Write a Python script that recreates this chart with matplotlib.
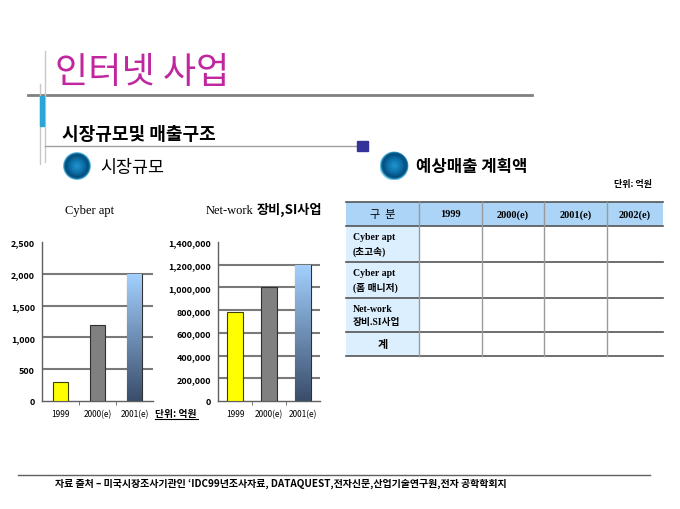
import numpy as np
import matplotlib
matplotlib.use('Agg')
import matplotlib.pyplot as plt
from matplotlib import font_manager
from matplotlib.patches import Rectangle, Circle
from matplotlib.colors import LinearSegmentedColormap

# 폰트 준비
names = {f.name for f in font_manager.fontManager.ttflist}
NARROW = [n for n in ['Liberation Sans Narrow', 'DejaVu Sans Condensed'] if n in names]
NARROW = NARROW + ['Noto Sans CJK KR', 'DejaVu Sans']
KR = ['Noto Sans CJK KR', 'DejaVu Sans']
SERIF_KR = ['Liberation Serif', 'Noto Sans CJK KR']

# 데이터
years = ['1999', '2000(e)', '2001(e)']
cyber_apt = [300, 1200, 2000]
network_si = [780000, 1000000, 1200000]
cyber_ticks = [0, 500, 1000, 1500, 2000, 2500]
network_ticks = [0, 200000, 400000, 600000, 800000, 1000000, 1200000, 1400000]

table_cols = ['구  분', '1999', '2000(e)', '2001(e)', '2002(e)']
table_rows = ['Cyber apt\n(초고속)', 'Cyber apt\n(홈 매니저)', 'Net-work\n장비.SI사업', '계']

footer = '자료 출처 – 미국시장조사기관인 ‘IDC99년조사자료, DATAQUEST,전자신문,산업기술연구원,전자 공학학회지'

W, H = 680, 510
fig = plt.figure(figsize=(6.8, 5.1), dpi=100)

# 배경 장식용 축 (픽셀 좌표)
bg = fig.add_axes([0, 0, 1, 1])
bg.set_xlim(0, W)
bg.set_ylim(H, 0)
bg.axis('off')


def px_axes(l, t, r, b):
    return fig.add_axes([l / W, 1 - b / H, (r - l) / W, (b - t) / H])


def gradient_bar(ax, bar, c_bottom='#3A4D6A', c_top='#A3D1FF'):
    x0, y0 = bar.get_x(), bar.get_y()
    w, h = bar.get_width(), bar.get_height()
    grad = np.linspace(1, 0, 256).reshape(-1, 1)
    cmap = LinearSegmentedColormap.from_list('g', [c_bottom, c_top])
    im = ax.imshow(grad, extent=(x0, x0 + w, y0, y0 + h), aspect='auto',
                   cmap=cmap, vmin=0, vmax=1, zorder=bar.get_zorder())
    im.set_clip_path(bar)
    bar.set_facecolor('none')


def ball(cx, cy, r):
    yy, xx = np.mgrid[-1:1:120j, -1:1:120j]
    d = np.hypot(xx, yy)
    cmap = LinearSegmentedColormap.from_list(
        'b', [(0, '#2196CF'), (0.55, '#0A6AA3'), (0.8, '#054B7A'),
              (0.9, '#0E6C9E'), (1.0, '#8AD8F2')])
    im = bg.imshow(d, extent=(cx - r, cx + r, cy + r, cy - r), cmap=cmap,
                   vmin=0, vmax=1, aspect='auto', zorder=3)
    circ = Circle((cx, cy), r, facecolor='none', edgecolor='none')
    bg.add_patch(circ)
    im.set_clip_path(circ)


# 제목 및 장식선
bg.text(55, 73, '인터넷 사업', family=KR, fontsize=26, color='#C0269E', va='center')
bg.plot([28, 532], [96, 96], color='#808080', lw=2)
bg.plot([45, 45], [52, 163], color='#C8C8C8', lw=1)
bg.plot([40, 40], [85, 165], color='#C8C8C8', lw=1)
bg.add_patch(Rectangle((40, 97), 4, 30, color='#2AA6D6', zorder=3))
bg.text(62, 135, '시장규모및 매출구조', family=KR, fontsize=13, weight='bold', va='center')
bg.plot([45, 358], [147, 147], color='#A0A0A0', lw=1)
bg.add_patch(Rectangle((357, 142), 11, 10, color='#333399', zorder=3))

ball(77, 167, 14)
bg.text(100, 168, '시장규모', family=KR, fontsize=12.5, weight='medium', va='center')
ball(394, 167, 14.5)
bg.text(416, 167, '예상매출 계획액', family=KR, fontsize=12, weight='bold', va='center')
bg.text(652, 185, '단위: 억원', family=KR, fontsize=6.5, weight='bold', ha='right', va='center')

# 차트 제목
bg.text(90, 211, 'Cyber apt', family=SERIF_KR, fontsize=9, ha='center', va='center')
bg.text(253, 211, 'Net-work', family=SERIF_KR, fontsize=9, ha='right', va='center')
bg.text(257, 210, '장비,SI사업', family=KR, fontsize=9.5, weight='bold', ha='left', va='center')

bar_colors = ['#FFFF00', '#808080', '#FFFFFF']
bar_edges = ['#404000', '#303030', '#303030']


def bar_chart(ax, values, ticks, width):
    x = np.arange(len(values))
    bars = ax.bar(x, values, width=width, color=bar_colors, edgecolor=bar_edges,
                  linewidth=0.8, zorder=3)
    gradient_bar(ax, bars[2])
    for v in ticks[1:-1]:
        ax.axhline(v, color='#7A7A7A', lw=1.5, zorder=1)
    ax.set_xlim(-0.5, len(values) - 0.5)
    ax.set_ylim(ticks[0], ticks[-1])
    ax.set_yticks(ticks, labels=[f'{v:,}' for v in ticks])
    ax.set_xticks(x, labels=years)
    ax.set_xticks(x[:-1] + 0.5, minor=True)
    ax.set_facecolor('none')
    for s in ['top', 'right']:
        ax.spines[s].set_visible(False)
    for s in ['left', 'bottom']:
        ax.spines[s].set_color('#606060')
        ax.spines[s].set_linewidth(1)
    ax.tick_params(axis='y', length=0, pad=5, labelsize=6.5)
    ax.tick_params(axis='x', which='major', length=0, pad=6, labelsize=6)
    ax.tick_params(axis='x', which='minor', length=3, color='#606060', direction='out')
    for lab in ax.get_yticklabels():
        lab.set_family(NARROW)
        lab.set_weight('bold')
    for lab in ax.get_xticklabels():
        lab.set_family(NARROW)


ax1 = px_axes(42, 243, 153, 402)
bar_chart(ax1, cyber_apt, cyber_ticks, 0.4)
ax2 = px_axes(218, 243, 320, 402)
bar_chart(ax2, network_si, network_ticks, 0.45)

bg.text(155, 414, '단위: 억원', family=KR, fontsize=7, weight='bold', ha='left', va='center')
bg.plot([155, 198], [420, 420], color='black', lw=0.8)

# 표
col_x = [346, 419, 482, 544, 607, 663]
row_y = [203, 227, 263, 299, 333, 357]
bg.add_patch(Rectangle((col_x[0], row_y[0]), col_x[-1] - col_x[0], row_y[1] - row_y[0],
                       facecolor='#ABD4F6', edgecolor='none', zorder=1))
bg.add_patch(Rectangle((col_x[0], row_y[1]), col_x[1] - col_x[0], row_y[-1] - row_y[1],
                       facecolor='#DCEFFF', edgecolor='none', zorder=1))
for y in row_y:
    bg.plot([col_x[0], col_x[-1]], [y, y], color='#555555', lw=1.2, zorder=2)
for x in col_x[1:-1]:
    bg.plot([x, x], [row_y[0], row_y[-1]], color='#9A9A9A', lw=1, zorder=2)

hy = (row_y[0] + row_y[1]) / 2
for i, c in enumerate(table_cols):
    cx = (col_x[i] + col_x[i + 1]) / 2
    if i == 0:
        bg.text(cx, hy, c, family=KR, fontsize=8, ha='center', va='center')
    else:
        bg.text(cx, hy, c, family=SERIF_KR, fontsize=7.5, weight='bold', ha='center', va='center')
for j, r in enumerate(table_rows):
    cy = (row_y[j + 1] + row_y[j + 2]) / 2
    if '\n' in r:
        bg.text(353, cy, r, family=SERIF_KR, fontsize=7, weight='bold', ha='left',
                va='center', linespacing=1.5)
    else:
        bg.text((col_x[0] + col_x[1]) / 2, cy, r, family=KR, fontsize=8, weight='bold',
                ha='center', va='center')

# 하단 출처
bg.plot([18, 650], [476, 476], color='#606060', lw=1)
bg.text(55, 484, footer, family=NARROW, fontsize=7.2, weight='bold', ha='left', va='center')

fig.savefig('out.png', dpi=100)
